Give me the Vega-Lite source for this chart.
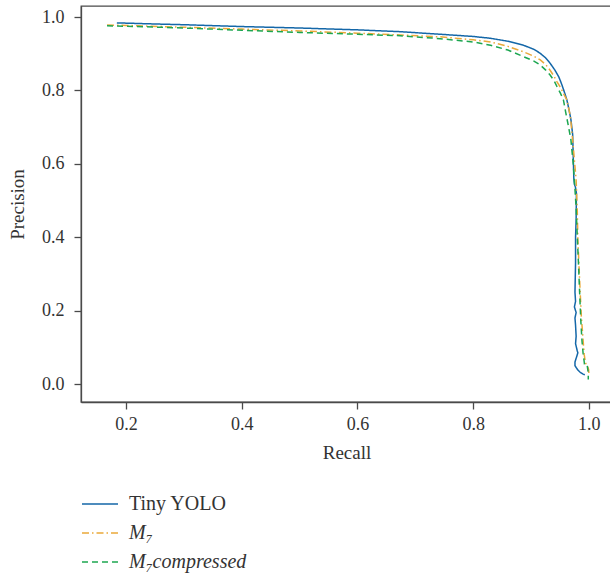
{
  "$schema": "https://vega.github.io/schema/vega-lite/v6.json",
  "autosize": {"type": "none"},
  "padding": {"left": 81, "top": 6, "right": 0, "bottom": 172},
  "width": 531,
  "height": 396,
  "background": "white",
  "config": {
    "view": {"stroke": "#4a4a4a", "strokeWidth": 1.3},
    "font": "Liberation Serif",
    "axis": {
      "labelFont": "Liberation Serif",
      "titleFont": "Liberation Serif",
      "labelFontSize": 18,
      "titleFontSize": 19,
      "titleFontWeight": "normal",
      "labelColor": "#333333",
      "titleColor": "#333333",
      "domainColor": "#4a4a4a",
      "domainWidth": 1.3,
      "tickColor": "#4a4a4a",
      "tickWidth": 1.3,
      "tickSize": 7,
      "grid": false
    },
    "legend": {
      "labelFont": "Liberation Serif",
      "labelFontSize": 20,
      "labelColor": "#333333"
    }
  },
  "data": {
    "values": [
      {"model": "Tiny YOLO", "i": 1, "recall": 0.184, "precision": 0.984},
      {"model": "Tiny YOLO", "i": 2, "recall": 0.25, "precision": 0.981},
      {"model": "Tiny YOLO", "i": 3, "recall": 0.3, "precision": 0.979},
      {"model": "Tiny YOLO", "i": 4, "recall": 0.4, "precision": 0.974},
      {"model": "Tiny YOLO", "i": 5, "recall": 0.5, "precision": 0.970},
      {"model": "Tiny YOLO", "i": 6, "recall": 0.6, "precision": 0.965},
      {"model": "Tiny YOLO", "i": 7, "recall": 0.674, "precision": 0.960},
      {"model": "Tiny YOLO", "i": 8, "recall": 0.743, "precision": 0.953},
      {"model": "Tiny YOLO", "i": 9, "recall": 0.80, "precision": 0.947},
      {"model": "Tiny YOLO", "i": 10, "recall": 0.83, "precision": 0.942},
      {"model": "Tiny YOLO", "i": 11, "recall": 0.86, "precision": 0.934},
      {"model": "Tiny YOLO", "i": 12, "recall": 0.887, "precision": 0.923},
      {"model": "Tiny YOLO", "i": 13, "recall": 0.905, "precision": 0.912},
      {"model": "Tiny YOLO", "i": 14, "recall": 0.916, "precision": 0.901},
      {"model": "Tiny YOLO", "i": 15, "recall": 0.925, "precision": 0.889},
      {"model": "Tiny YOLO", "i": 16, "recall": 0.933, "precision": 0.874},
      {"model": "Tiny YOLO", "i": 17, "recall": 0.941, "precision": 0.856},
      {"model": "Tiny YOLO", "i": 18, "recall": 0.948, "precision": 0.837},
      {"model": "Tiny YOLO", "i": 19, "recall": 0.953, "precision": 0.817},
      {"model": "Tiny YOLO", "i": 20, "recall": 0.958, "precision": 0.794},
      {"model": "Tiny YOLO", "i": 21, "recall": 0.962, "precision": 0.774},
      {"model": "Tiny YOLO", "i": 22, "recall": 0.966, "precision": 0.745},
      {"model": "Tiny YOLO", "i": 23, "recall": 0.969, "precision": 0.720},
      {"model": "Tiny YOLO", "i": 24, "recall": 0.972, "precision": 0.680},
      {"model": "Tiny YOLO", "i": 25, "recall": 0.973, "precision": 0.620},
      {"model": "Tiny YOLO", "i": 26, "recall": 0.974, "precision": 0.560},
      {"model": "Tiny YOLO", "i": 27, "recall": 0.975, "precision": 0.545},
      {"model": "Tiny YOLO", "i": 28, "recall": 0.977, "precision": 0.535},
      {"model": "Tiny YOLO", "i": 29, "recall": 0.9785, "precision": 0.520},
      {"model": "Tiny YOLO", "i": 30, "recall": 0.978, "precision": 0.450},
      {"model": "Tiny YOLO", "i": 31, "recall": 0.977, "precision": 0.400},
      {"model": "Tiny YOLO", "i": 32, "recall": 0.977, "precision": 0.330},
      {"model": "Tiny YOLO", "i": 33, "recall": 0.976, "precision": 0.250},
      {"model": "Tiny YOLO", "i": 34, "recall": 0.977, "precision": 0.225},
      {"model": "Tiny YOLO", "i": 35, "recall": 0.975, "precision": 0.210},
      {"model": "Tiny YOLO", "i": 36, "recall": 0.978, "precision": 0.195},
      {"model": "Tiny YOLO", "i": 37, "recall": 0.976, "precision": 0.180},
      {"model": "Tiny YOLO", "i": 38, "recall": 0.977, "precision": 0.160},
      {"model": "Tiny YOLO", "i": 39, "recall": 0.978, "precision": 0.130},
      {"model": "Tiny YOLO", "i": 40, "recall": 0.977, "precision": 0.110},
      {"model": "Tiny YOLO", "i": 41, "recall": 0.980, "precision": 0.090},
      {"model": "Tiny YOLO", "i": 42, "recall": 0.981, "precision": 0.085},
      {"model": "Tiny YOLO", "i": 43, "recall": 0.979, "precision": 0.075},
      {"model": "Tiny YOLO", "i": 44, "recall": 0.976, "precision": 0.060},
      {"model": "Tiny YOLO", "i": 45, "recall": 0.976, "precision": 0.050},
      {"model": "Tiny YOLO", "i": 46, "recall": 0.978, "precision": 0.045},
      {"model": "Tiny YOLO", "i": 47, "recall": 0.981, "precision": 0.038},
      {"model": "Tiny YOLO", "i": 48, "recall": 0.985, "precision": 0.032},
      {"model": "Tiny YOLO", "i": 49, "recall": 0.990, "precision": 0.027},
      {"model": "Tiny YOLO", "i": 50, "recall": 0.993, "precision": 0.025},

      {"model": "M₇", "i": 1, "recall": 0.167, "precision": 0.978},
      {"model": "M₇", "i": 2, "recall": 0.2, "precision": 0.977},
      {"model": "M₇", "i": 3, "recall": 0.3, "precision": 0.972},
      {"model": "M₇", "i": 4, "recall": 0.4, "precision": 0.967},
      {"model": "M₇", "i": 5, "recall": 0.5, "precision": 0.962},
      {"model": "M₇", "i": 6, "recall": 0.6, "precision": 0.956},
      {"model": "M₇", "i": 7, "recall": 0.674, "precision": 0.951},
      {"model": "M₇", "i": 8, "recall": 0.743, "precision": 0.946},
      {"model": "M₇", "i": 9, "recall": 0.80, "precision": 0.938},
      {"model": "M₇", "i": 10, "recall": 0.83, "precision": 0.932},
      {"model": "M₇", "i": 11, "recall": 0.86, "precision": 0.920},
      {"model": "M₇", "i": 12, "recall": 0.887, "precision": 0.905},
      {"model": "M₇", "i": 13, "recall": 0.905, "precision": 0.893},
      {"model": "M₇", "i": 14, "recall": 0.916, "precision": 0.883},
      {"model": "M₇", "i": 15, "recall": 0.925, "precision": 0.871},
      {"model": "M₇", "i": 16, "recall": 0.933, "precision": 0.855},
      {"model": "M₇", "i": 17, "recall": 0.940, "precision": 0.838},
      {"model": "M₇", "i": 18, "recall": 0.945, "precision": 0.823},
      {"model": "M₇", "i": 19, "recall": 0.951, "precision": 0.808},
      {"model": "M₇", "i": 20, "recall": 0.956, "precision": 0.792},
      {"model": "M₇", "i": 21, "recall": 0.962, "precision": 0.774},
      {"model": "M₇", "i": 22, "recall": 0.968, "precision": 0.730},
      {"model": "M₇", "i": 23, "recall": 0.972, "precision": 0.665},
      {"model": "M₇", "i": 24, "recall": 0.975, "precision": 0.610},
      {"model": "M₇", "i": 25, "recall": 0.978, "precision": 0.556},
      {"model": "M₇", "i": 26, "recall": 0.980, "precision": 0.470},
      {"model": "M₇", "i": 27, "recall": 0.981, "precision": 0.393},
      {"model": "M₇", "i": 28, "recall": 0.983, "precision": 0.320},
      {"model": "M₇", "i": 29, "recall": 0.985, "precision": 0.250},
      {"model": "M₇", "i": 30, "recall": 0.987, "precision": 0.184},
      {"model": "M₇", "i": 31, "recall": 0.990, "precision": 0.120},
      {"model": "M₇", "i": 32, "recall": 0.992, "precision": 0.080},
      {"model": "M₇", "i": 33, "recall": 0.994, "precision": 0.058},
      {"model": "M₇", "i": 34, "recall": 0.996, "precision": 0.052},
      {"model": "M₇", "i": 35, "recall": 0.998, "precision": 0.047},
      {"model": "M₇", "i": 36, "recall": 0.9995, "precision": 0.040},
      {"model": "M₇", "i": 37, "recall": 1.0, "precision": 0.030},

      {"model": "M₇compressed", "i": 1, "recall": 0.167, "precision": 0.976},
      {"model": "M₇compressed", "i": 2, "recall": 0.2, "precision": 0.975},
      {"model": "M₇compressed", "i": 3, "recall": 0.3, "precision": 0.970},
      {"model": "M₇compressed", "i": 4, "recall": 0.4, "precision": 0.964},
      {"model": "M₇compressed", "i": 5, "recall": 0.5, "precision": 0.958},
      {"model": "M₇compressed", "i": 6, "recall": 0.6, "precision": 0.953},
      {"model": "M₇compressed", "i": 7, "recall": 0.674, "precision": 0.949},
      {"model": "M₇compressed", "i": 8, "recall": 0.743, "precision": 0.941},
      {"model": "M₇compressed", "i": 9, "recall": 0.80, "precision": 0.932},
      {"model": "M₇compressed", "i": 10, "recall": 0.83, "precision": 0.923},
      {"model": "M₇compressed", "i": 11, "recall": 0.86, "precision": 0.910},
      {"model": "M₇compressed", "i": 12, "recall": 0.887, "precision": 0.892},
      {"model": "M₇compressed", "i": 13, "recall": 0.905, "precision": 0.880},
      {"model": "M₇compressed", "i": 14, "recall": 0.916, "precision": 0.869},
      {"model": "M₇compressed", "i": 15, "recall": 0.925, "precision": 0.856},
      {"model": "M₇compressed", "i": 16, "recall": 0.933, "precision": 0.842},
      {"model": "M₇compressed", "i": 17, "recall": 0.940, "precision": 0.826},
      {"model": "M₇compressed", "i": 18, "recall": 0.945, "precision": 0.810},
      {"model": "M₇compressed", "i": 19, "recall": 0.951, "precision": 0.792},
      {"model": "M₇compressed", "i": 20, "recall": 0.956, "precision": 0.774},
      {"model": "M₇compressed", "i": 21, "recall": 0.960, "precision": 0.740},
      {"model": "M₇compressed", "i": 22, "recall": 0.965, "precision": 0.700},
      {"model": "M₇compressed", "i": 23, "recall": 0.969, "precision": 0.665},
      {"model": "M₇compressed", "i": 24, "recall": 0.973, "precision": 0.600},
      {"model": "M₇compressed", "i": 25, "recall": 0.976, "precision": 0.530},
      {"model": "M₇compressed", "i": 26, "recall": 0.978, "precision": 0.480},
      {"model": "M₇compressed", "i": 27, "recall": 0.980, "precision": 0.400},
      {"model": "M₇compressed", "i": 28, "recall": 0.982, "precision": 0.330},
      {"model": "M₇compressed", "i": 29, "recall": 0.984, "precision": 0.250},
      {"model": "M₇compressed", "i": 30, "recall": 0.986, "precision": 0.175},
      {"model": "M₇compressed", "i": 31, "recall": 0.988, "precision": 0.120},
      {"model": "M₇compressed", "i": 32, "recall": 0.990, "precision": 0.084},
      {"model": "M₇compressed", "i": 33, "recall": 0.992, "precision": 0.060},
      {"model": "M₇compressed", "i": 34, "recall": 0.9925, "precision": 0.052},
      {"model": "M₇compressed", "i": 35, "recall": 0.997, "precision": 0.052},
      {"model": "M₇compressed", "i": 36, "recall": 0.999, "precision": 0.030},
      {"model": "M₇compressed", "i": 37, "recall": 0.999, "precision": 0.012}
    ]
  },
  "mark": {"type": "line", "strokeWidth": 1.5, "interpolate": "linear"},
  "encoding": {
    "x": {
      "field": "recall", "type": "quantitative",
      "scale": {"domain": [0.122, 1.04], "nice": false, "zero": false},
      "axis": {"values": [0.2, 0.4, 0.6, 0.8, 1.0], "format": ".1f", "title": "Recall", "labelPadding": 6, "titlePadding": 10}
    },
    "y": {
      "field": "precision", "type": "quantitative",
      "scale": {"domain": [-0.049, 1.03], "nice": false, "zero": false},
      "axis": {"values": [0, 0.2, 0.4, 0.6, 0.8, 1.0], "format": ".1f", "title": "Precision", "labelPadding": 10, "titlePadding": 14}
    },
    "order": {"field": "i", "type": "quantitative"},
    "color": {
      "field": "model", "type": "nominal",
      "scale": {"domain": ["Tiny YOLO", "M₇", "M₇compressed"], "range": ["#1467a8", "#eaa93a", "#1ca650"]},
      "legend": {
        "title": null,
        "orient": "none",
        "legendX": 0,
        "legendY": 479,
        "symbolType": "stroke",
        "symbolSize": 1296,
        "symbolStrokeWidth": 1.5,
        "labelOffset": 10,
        "rowPadding": 0,
        "encode": {
          "labels": {"update": {"fontStyle": {"signal": "datum.label === 'Tiny YOLO' ? 'normal' : 'italic'"}}}
        }
      }
    },
    "strokeDash": {
      "field": "model", "type": "nominal",
      "scale": {"domain": ["Tiny YOLO", "M₇", "M₇compressed"], "range": [[1, 0], [7, 3, 1.5, 3], [6, 4]]},
      "legend": null
    }
  }
}
